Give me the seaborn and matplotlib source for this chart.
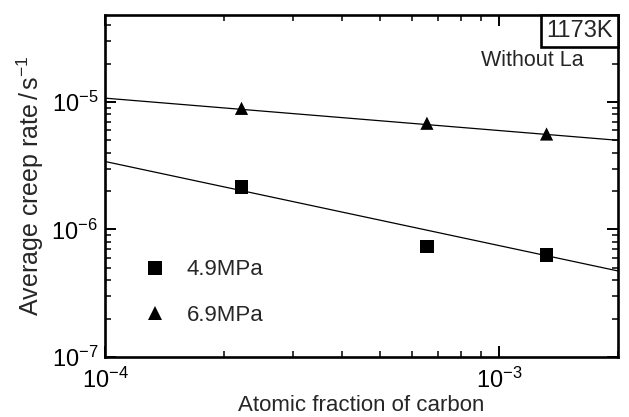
import numpy as np
import pandas as pd
import matplotlib
matplotlib.use("Agg")
import matplotlib.pyplot as plt
import seaborn as sns
from matplotlib.ticker import LogLocator, NullFormatter

# data
carbon = [2.22e-4, 6.56e-4, 1.32e-3]
rate_49 = [2.15e-6, 7.3e-7, 6.3e-7]
rate_69 = [8.9e-6, 6.8e-6, 5.6e-6]

# fitted lines (endpoints at axis limits)
fit_x = [1e-4, 2e-3]
fit_49 = [3.41e-6, 4.73e-7]
fit_69 = [1.07e-5, 5.0e-6]

series = ["4.9MPa", "6.9MPa"]

sns.set_theme(style="ticks")
plt.rcParams["font.family"] = ["Liberation Sans", "DejaVu Sans"]
plt.rcParams["mathtext.fontset"] = "custom"
plt.rcParams["mathtext.rm"] = "Liberation Sans"
plt.rcParams["mathtext.it"] = "Liberation Sans:italic"

pts = pd.DataFrame({
    "x": carbon * 2,
    "y": rate_49 + rate_69,
    "stress": [series[0]] * 3 + [series[1]] * 3,
})
fits = pd.DataFrame({
    "x": fit_x * 2,
    "y": fit_49 + fit_69,
    "stress": [series[0]] * 2 + [series[1]] * 2,
})

fig = plt.figure(figsize=(6.29, 4.17), dpi=100)
ax = fig.add_axes([0.167, 0.144, 0.815, 0.82])

sns.lineplot(data=fits, x="x", y="y", units="stress", estimator=None,
             color="black", linewidth=0.9, ax=ax, legend=False)
sns.scatterplot(data=pts, x="x", y="y", style="stress",
                markers={series[0]: "s", series[1]: "^"},
                color="black", s=90, edgecolor="black", linewidth=0,
                ax=ax)

ax.set_xscale("log")
ax.set_yscale("log")
ax.set_xlim(1e-4, 2e-3)
ax.set_ylim(1e-7, 4.8e-5)

ax.xaxis.set_major_locator(LogLocator(base=10, numticks=10))
ax.yaxis.set_major_locator(LogLocator(base=10, numticks=10))
ax.xaxis.set_minor_locator(LogLocator(base=10, subs=np.arange(2, 10), numticks=20))
ax.yaxis.set_minor_locator(LogLocator(base=10, subs=np.arange(2, 10), numticks=20))
ax.xaxis.set_minor_formatter(NullFormatter())
ax.yaxis.set_minor_formatter(NullFormatter())

ax.tick_params(which="both", direction="in", top=True, right=True,
               colors="black", labelsize=17)
ax.tick_params(which="major", length=8, width=1.4, pad=5)
ax.tick_params(which="minor", length=4.5, width=1.1)
ax.tick_params(axis="x", which="major", pad=8)
for sp in ax.spines.values():
    sp.set_linewidth(1.9)
    sp.set_color("black")

ax.set_xlabel("Atomic fraction of carbon", fontsize=16, labelpad=1)
ax.set_ylabel("Average creep rate$\\,/\\,$s$^{-1}$", fontsize=18, labelpad=4)

ax.legend(frameon=False, loc="upper left", bbox_to_anchor=(0.055, 0.285),
          borderpad=0, borderaxespad=0, fontsize=16, handlelength=2.0,
          handletextpad=0.4, labelspacing=1.1, markerscale=1.05)

ax.text(0.99, 0.985, "1173K", transform=ax.transAxes, ha="right", va="top",
        fontsize=17,
        bbox=dict(boxstyle="square,pad=0.22", facecolor="white",
                  edgecolor="black", linewidth=1.9))
ax.text(0.934, 0.866, "Without La", transform=ax.transAxes, ha="right",
        va="center", fontsize=15.5)

fig.savefig("out.png", dpi=100)
